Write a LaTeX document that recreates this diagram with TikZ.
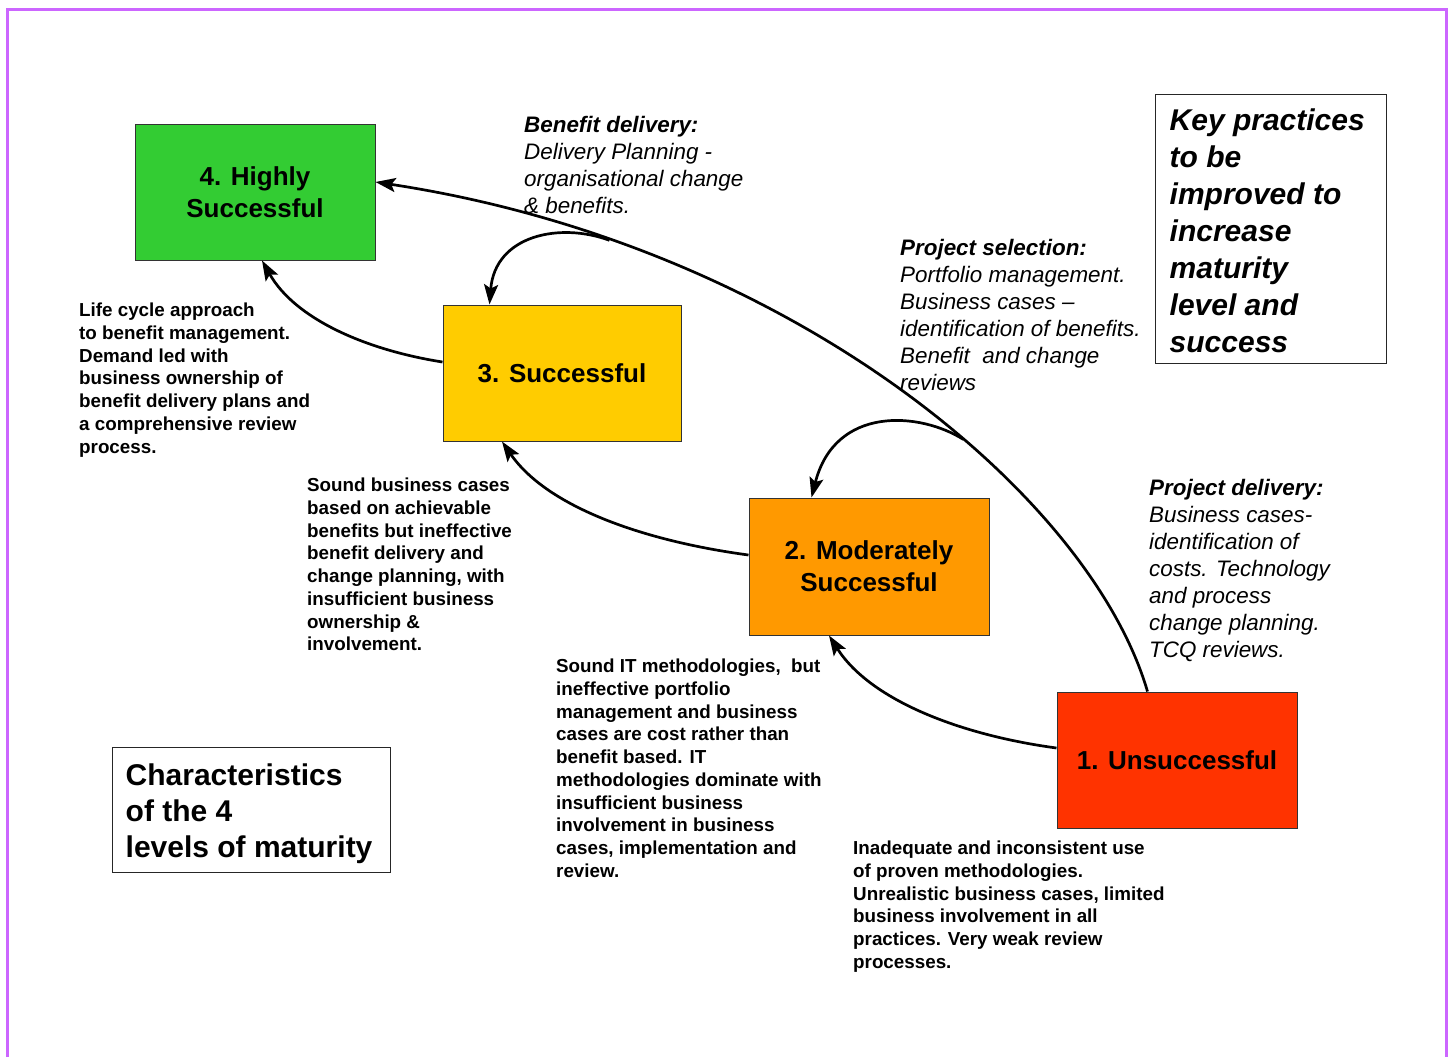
\documentclass[tikz,border=0pt]{standalone}
\usepackage{fontspec}
\setmainfont{Liberation Sans}
\usetikzlibrary{arrows.meta}

\definecolor{framepurple}{RGB}{204,102,255}
\definecolor{lvlgreen}{RGB}{51,204,51}
\definecolor{lvlyellow}{RGB}{255,204,0}
\definecolor{lvlorange}{RGB}{255,153,0}
\definecolor{lvlred}{RGB}{255,51,0}

\begin{document}
\begin{tikzpicture}[x=1pt, y=-1pt,
  level/.style={draw=black!80, line width=1pt, minimum width=240pt, minimum height=136pt,
    inner sep=0pt, align=center, font=\fontsize{26}{32}\selectfont\bfseries},
  flow/.style={line width=2.7pt, -{Stealth[length=20pt, width=14pt, inset=4pt]}},
  note/.style={anchor=north west, inner sep=0pt, align=left,
    font=\fontsize{18.8}{22.7}\selectfont\bfseries},
  practice/.style={anchor=north west, inner sep=0pt, align=left,
    font=\fontsize{22.4}{27}\selectfont\itshape},
  legendbox/.style={draw=black!85, line width=1pt, inner sep=0pt},
  legendtext/.style={anchor=north west, inner sep=0pt, align=left}
]
\useasboundingbox (0,0) rectangle (1455,1057);
\fill[white] (0,0) rectangle (1455,1057);

% outer frame, open at the bottom edge
\draw[framepurple, line width=3pt] (7,1057) -- (7,10) -- (1446,10) -- (1446,1057);

% maturity levels
\node[level, fill=lvlgreen] (l4) at (255,192) {4. Highly\\Successful};
\node[level, fill=lvlyellow, minimum width=238pt] (l3) at (562,373) {3. Successful};
\node[level, fill=lvlorange, minimum height=137pt] (l2) at (869,566.5) {2. Moderately\\Successful};
\node[level, fill=lvlred] (l1) at (1177,760) {1. Unsuccessful};

% long path from level 1 to level 4, with branch points for the loops
\draw[flow] ([xshift=91pt]l1.north west) .. controls (1090,495) and (790,245) ..
  ([yshift=10pt]l4.east) coordinate[pos=0.41] (j2) coordinate[pos=0.8] (j3);

% loops dropping into levels 3 and 2
\draw[flow] (j3) .. controls (560,222) and (495,235) .. ([xshift=47pt]l3.north west);
\draw[flow] (j2) .. controls (920,412) and (835,405) .. ([xshift=63pt]l2.north west);

% step-up arrows between neighbouring levels
\draw[flow] ([yshift=12pt]l1.west) .. controls (960,735) and (870,700) .. ([xshift=-40pt]l2.south);
\draw[flow] ([yshift=11.5pt]l2.west) .. controls (644,541) and (547,507) .. ([xshift=-60pt]l3.south);
\draw[flow] ([yshift=11pt]l3.west) .. controls (366,350) and (295,319) .. ([xshift=7pt]l4.south);

% key practices
\node[practice] (bd) at (524,116) {\textbf{Benefit delivery:}\\Delivery Planning -\\organisational change\\\& benefits.};
\node[practice] (ps) at (900,239) {\textbf{Project selection:}\\Portfolio management.\\Business cases –\\identification of benefits.\\Benefit\ \ and change\\reviews};
\node[practice] (pd) at (1149,479) {\textbf{Project delivery:}\\Business cases-\\identification of\\costs. Technology\\and process\\change planning.\\TCQ reviews.};

% characteristics of each level
\node[note] (c4) at (79,303) {Life cycle approach\\to benefit management.\\Demand led with\\business ownership of\\benefit delivery plans and\\a comprehensive review\\process.};
\node[note] (c3) at (307,478) {Sound business cases\\based on achievable\\benefits but ineffective\\benefit delivery and\\change planning, with\\insufficient business\\ownership \&\\involvement.};
\node[note] (c2) at (556,659) {Sound IT methodologies,\ \ but\\ineffective portfolio\\management and business\\cases are cost rather than\\benefit based. IT\\methodologies dominate with\\insufficient business\\involvement in business\\cases, implementation and\\review.};
\node[note] (c1) at (853,841) {Inadequate and inconsistent use\\of proven methodologies.\\Unrealistic business cases, limited\\business involvement in all\\practices. Very weak review\\processes.};

% legend boxes
\node[legendbox, minimum width=231pt, minimum height=269pt] (key) at (1270.5,228.5) {};
\node[legendtext, font=\fontsize{30}{37}\selectfont\bfseries\itshape] (keylbl)
  at ([xshift=15pt, yshift=-15pt]key.north west)
  {Key practices\\to be\\improved to\\increase\\maturity\\level and\\success};
\node[legendbox, minimum width=278pt, minimum height=125pt] (chr) at (251,809.5) {};
\node[legendtext, font=\fontsize{30}{36}\selectfont\bfseries] (chrlbl)
  at ([xshift=14pt, yshift=-17pt]chr.north west)
  {Characteristics\\of the 4\\levels of maturity};
\end{tikzpicture}
\end{document}
